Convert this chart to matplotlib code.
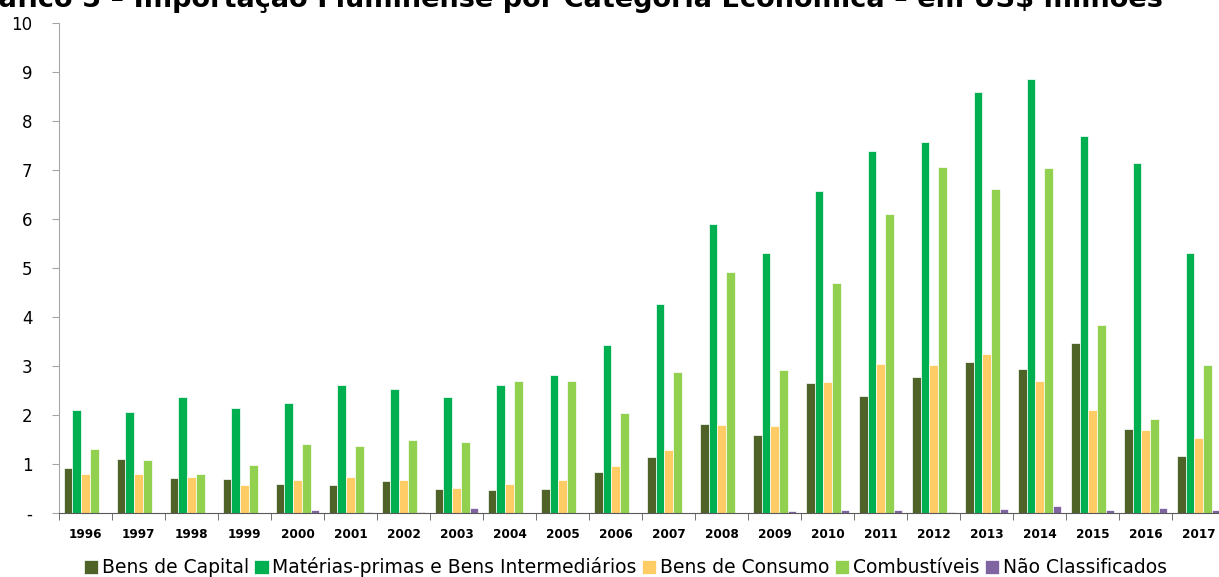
import matplotlib
matplotlib.use('Agg')
import matplotlib.pyplot as plt
import numpy as np

# Importação fluminense por categoria econômica (US$ bilhões)
years = [str(y) for y in range(1996, 2018)]
bens_capital = [0.91, 1.10, 0.71, 0.70, 0.59, 0.57, 0.65, 0.50, 0.46, 0.50, 0.83,
                1.14, 1.81, 1.59, 2.65, 2.38, 2.78, 3.08, 2.94, 3.47, 1.71, 1.16]
materias_primas = [2.10, 2.06, 2.36, 2.14, 2.25, 2.62, 2.54, 2.36, 2.61, 2.82, 3.43,
                   4.27, 5.90, 5.31, 6.58, 7.38, 7.57, 8.59, 8.85, 7.70, 7.14, 5.30]
bens_consumo = [0.80, 0.80, 0.74, 0.57, 0.67, 0.73, 0.67, 0.51, 0.59, 0.67, 0.96,
                1.28, 1.80, 1.78, 2.67, 3.04, 3.02, 3.24, 2.69, 2.10, 1.69, 1.53]
combustiveis = [1.30, 1.09, 0.79, 0.99, 1.40, 1.36, 1.49, 1.44, 2.69, 2.69, 2.05,
                2.88, 4.91, 2.91, 4.69, 6.10, 7.06, 6.61, 7.04, 3.83, 1.91, 3.03]
nao_classificados = [0.00, 0.00, 0.00, 0.01, 0.06, 0.03, 0.03, 0.10, 0.00, 0.00, 0.00,
                     0.00, 0.00, 0.05, 0.06, 0.06, 0.03, 0.09, 0.14, 0.06, 0.10, 0.07]

series = [
    ("Bens de Capital", bens_capital, "#4F6228"),
    ("Matérias-primas e Bens Intermediários", materias_primas, "#00B050"),
    ("Bens de Consumo", bens_consumo, "#FFCC66"),
    ("Combustíveis", combustiveis, "#92D050"),
    ("Não Classificados", nao_classificados, "#8064A2"),
]

fig = plt.figure(figsize=(12.19, 5.77), dpi=100)
ax = fig.add_axes([0.0484, 0.1109, 0.9566, 0.8492])

x = np.arange(len(years))
w = 0.164
for k, (name, vals, color) in enumerate(series):
    ax.bar(x + (k - 2) * w, vals, width=w, color=color, edgecolor="white",
           linewidth=0.5, label=name)

ax.set_xlim(-0.5, len(years) - 0.5)
ax.set_ylim(0, 10)

# y axis
ax.set_yticks(range(0, 11))
ax.set_yticklabels(["-"] + [str(i) for i in range(1, 11)], fontsize=12)
ax.tick_params(axis="y", length=5, color="#A6A6A6", pad=14)

# x axis: labels at group centers, tick marks between groups
ax.set_xticks(x)
ax.set_xticklabels(years, fontsize=8.7, fontweight="bold")
ax.set_xticks(np.arange(-0.5, len(years)), minor=True)
ax.tick_params(axis="x", which="major", length=0, pad=11)
ax.tick_params(axis="x", which="minor", length=5, color="#595959")

for side in ["top", "right"]:
    ax.spines[side].set_visible(False)
ax.spines["left"].set_color("#A6A6A6")
ax.spines["bottom"].set_color("#595959")

# the title is partly outside the image in the original
fig.text(1163 / 1219, 0.9879,
         "Gráfico 5 – Importação Fluminense por Categoria Econômica – em US$ milhões",
         ha="right", va="baseline", fontsize=19.5, fontweight="bold")

fig.legend(loc="center", bbox_to_anchor=(0.513, 0.017), ncol=5, frameon=False,
           fontsize=13.5, handlelength=0.75, handleheight=0.75, handletextpad=0.2,
           columnspacing=0.3, borderaxespad=0)

fig.savefig("out.png", dpi=100)
